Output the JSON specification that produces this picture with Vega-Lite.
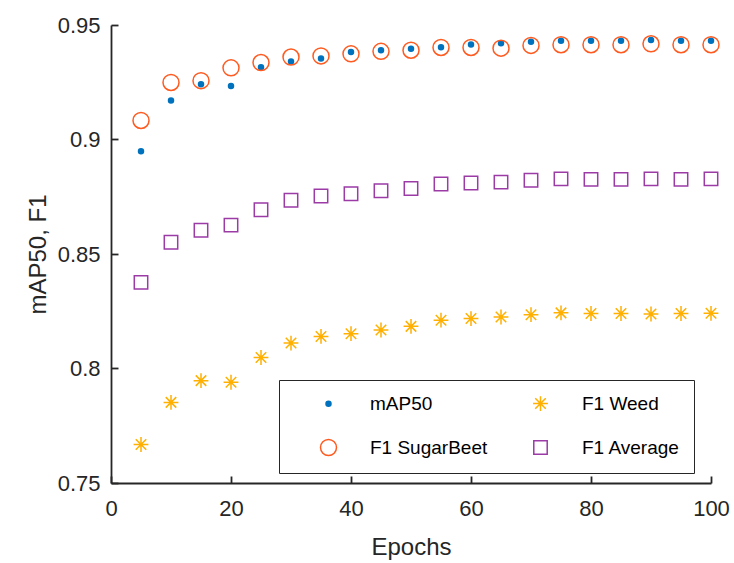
{
  "$schema": "https://vega.github.io/schema/vega-lite/v6.json",
  "width": 600,
  "height": 458,
  "autosize": "none",
  "padding": {"left": 111, "top": 25, "right": 23, "bottom": 80},
  "background": "white",
  "config": {
    "view": {"stroke": null},
    "font": "Liberation Sans",
    "axis": {
      "grid": false,
      "domainColor": "#262626",
      "domainWidth": 1.8,
      "tickColor": "#262626",
      "tickWidth": 1.8,
      "tickSize": -7,
      "labelFlush": false,
      "labelFont": "Liberation Sans",
      "labelFontSize": 22,
      "labelColor": "#262626",
      "titleFont": "Liberation Sans",
      "titleFontSize": 24,
      "titleFontWeight": "normal",
      "titleColor": "#262626"
    }
  },
  "data": {
    "values": [
      {"epoch": 5, "series": "mAP50", "value": 0.8949},
      {"epoch": 10, "series": "mAP50", "value": 0.917},
      {"epoch": 15, "series": "mAP50", "value": 0.9241},
      {"epoch": 20, "series": "mAP50", "value": 0.9234},
      {"epoch": 25, "series": "mAP50", "value": 0.9316},
      {"epoch": 30, "series": "mAP50", "value": 0.9341},
      {"epoch": 35, "series": "mAP50", "value": 0.9354},
      {"epoch": 40, "series": "mAP50", "value": 0.9382},
      {"epoch": 45, "series": "mAP50", "value": 0.939},
      {"epoch": 50, "series": "mAP50", "value": 0.9396},
      {"epoch": 55, "series": "mAP50", "value": 0.9403},
      {"epoch": 60, "series": "mAP50", "value": 0.9415},
      {"epoch": 65, "series": "mAP50", "value": 0.942},
      {"epoch": 70, "series": "mAP50", "value": 0.9427},
      {"epoch": 75, "series": "mAP50", "value": 0.9431},
      {"epoch": 80, "series": "mAP50", "value": 0.9431},
      {"epoch": 85, "series": "mAP50", "value": 0.9431},
      {"epoch": 90, "series": "mAP50", "value": 0.9434},
      {"epoch": 95, "series": "mAP50", "value": 0.9431},
      {"epoch": 100, "series": "mAP50", "value": 0.9431},

      {"epoch": 5, "series": "F1 SugarBeet", "value": 0.9083},
      {"epoch": 10, "series": "F1 SugarBeet", "value": 0.9249},
      {"epoch": 15, "series": "F1 SugarBeet", "value": 0.9257},
      {"epoch": 20, "series": "F1 SugarBeet", "value": 0.9313},
      {"epoch": 25, "series": "F1 SugarBeet", "value": 0.9336},
      {"epoch": 30, "series": "F1 SugarBeet", "value": 0.936},
      {"epoch": 35, "series": "F1 SugarBeet", "value": 0.9365},
      {"epoch": 40, "series": "F1 SugarBeet", "value": 0.9374},
      {"epoch": 45, "series": "F1 SugarBeet", "value": 0.9385},
      {"epoch": 50, "series": "F1 SugarBeet", "value": 0.939},
      {"epoch": 55, "series": "F1 SugarBeet", "value": 0.9402},
      {"epoch": 60, "series": "F1 SugarBeet", "value": 0.9402},
      {"epoch": 65, "series": "F1 SugarBeet", "value": 0.9399},
      {"epoch": 70, "series": "F1 SugarBeet", "value": 0.9411},
      {"epoch": 75, "series": "F1 SugarBeet", "value": 0.9414},
      {"epoch": 80, "series": "F1 SugarBeet", "value": 0.9414},
      {"epoch": 85, "series": "F1 SugarBeet", "value": 0.9414},
      {"epoch": 90, "series": "F1 SugarBeet", "value": 0.9418},
      {"epoch": 95, "series": "F1 SugarBeet", "value": 0.9414},
      {"epoch": 100, "series": "F1 SugarBeet", "value": 0.9414},

      {"epoch": 5, "series": "F1 Weed", "value": 0.7668},
      {"epoch": 10, "series": "F1 Weed", "value": 0.7852},
      {"epoch": 15, "series": "F1 Weed", "value": 0.7947},
      {"epoch": 20, "series": "F1 Weed", "value": 0.794},
      {"epoch": 25, "series": "F1 Weed", "value": 0.8048},
      {"epoch": 30, "series": "F1 Weed", "value": 0.8111},
      {"epoch": 35, "series": "F1 Weed", "value": 0.814},
      {"epoch": 40, "series": "F1 Weed", "value": 0.8152},
      {"epoch": 45, "series": "F1 Weed", "value": 0.8168},
      {"epoch": 50, "series": "F1 Weed", "value": 0.8184},
      {"epoch": 55, "series": "F1 Weed", "value": 0.8211},
      {"epoch": 60, "series": "F1 Weed", "value": 0.8218},
      {"epoch": 65, "series": "F1 Weed", "value": 0.8225},
      {"epoch": 70, "series": "F1 Weed", "value": 0.8235},
      {"epoch": 75, "series": "F1 Weed", "value": 0.8243},
      {"epoch": 80, "series": "F1 Weed", "value": 0.824},
      {"epoch": 85, "series": "F1 Weed", "value": 0.824},
      {"epoch": 90, "series": "F1 Weed", "value": 0.8238},
      {"epoch": 95, "series": "F1 Weed", "value": 0.824},
      {"epoch": 100, "series": "F1 Weed", "value": 0.8241},

      {"epoch": 5, "series": "F1 Average", "value": 0.8376},
      {"epoch": 10, "series": "F1 Average", "value": 0.8551},
      {"epoch": 15, "series": "F1 Average", "value": 0.8604},
      {"epoch": 20, "series": "F1 Average", "value": 0.8626},
      {"epoch": 25, "series": "F1 Average", "value": 0.8693},
      {"epoch": 30, "series": "F1 Average", "value": 0.8735},
      {"epoch": 35, "series": "F1 Average", "value": 0.8753},
      {"epoch": 40, "series": "F1 Average", "value": 0.8763},
      {"epoch": 45, "series": "F1 Average", "value": 0.8776},
      {"epoch": 50, "series": "F1 Average", "value": 0.8786},
      {"epoch": 55, "series": "F1 Average", "value": 0.8806},
      {"epoch": 60, "series": "F1 Average", "value": 0.881},
      {"epoch": 65, "series": "F1 Average", "value": 0.8814},
      {"epoch": 70, "series": "F1 Average", "value": 0.8822},
      {"epoch": 75, "series": "F1 Average", "value": 0.8828},
      {"epoch": 80, "series": "F1 Average", "value": 0.8826},
      {"epoch": 85, "series": "F1 Average", "value": 0.8826},
      {"epoch": 90, "series": "F1 Average", "value": 0.8828},
      {"epoch": 95, "series": "F1 Average", "value": 0.8826},
      {"epoch": 100, "series": "F1 Average", "value": 0.8828}
    ]
  },
  "mark": {"type": "point", "strokeWidth": 1.5, "opacity": 1},
  "encoding": {
    "x": {
      "field": "epoch", "type": "quantitative", "title": "Epochs",
      "scale": {"domain": [0, 100], "nice": false, "zero": false},
      "axis": {"values": [0, 20, 40, 60, 80, 100], "labelPadding": 22, "titlePadding": 16}
    },
    "y": {
      "field": "value", "type": "quantitative", "title": "mAP50, F1",
      "scale": {"domain": [0.75, 0.95], "nice": false, "zero": false},
      "axis": {"values": [0.75, 0.8, 0.85, 0.9, 0.95], "labelPadding": 18, "titlePadding": 7, "labelExpr": "format(datum.value, '~g')"}
    },
    "stroke": {
      "field": "series", "type": "nominal",
      "scale": {"domain": ["mAP50", "F1 SugarBeet", "F1 Weed", "F1 Average"], "range": ["#0072BD", "#FF5A1F", "#FFB000", "#9C3AA6"]},
      "legend": {
        "title": null, "orient": "none", "legendX": 168, "legendY": 355, "columns": 2,
        "strokeColor": "#262626", "fillColor": "white", "padding": 14, "cornerRadius": 0,
        "labelFontSize": 19, "labelFont": "Liberation Sans", "labelColor": "#000000",
        "symbolOffset": 26, "labelOffset": 32, "rowPadding": 22, "columnPadding": 17,
        "symbolStrokeWidth": 1.5, "labelLimit": 300
      }
    },
    "fill": {
      "field": "series", "type": "nominal",
      "scale": {"domain": ["mAP50", "F1 SugarBeet", "F1 Weed", "F1 Average"], "range": ["#0072BD", "transparent", "transparent", "transparent"]}
    },
    "shape": {
      "field": "series", "type": "nominal",
      "scale": {"domain": ["mAP50", "F1 SugarBeet", "F1 Weed", "F1 Average"], "range": ["circle", "circle", "M-1,0L1,0M0,-1L0,1M-0.7071,-0.7071L0.7071,0.7071M-0.7071,0.7071L0.7071,-0.7071", "square"]}
    },
    "size": {
      "field": "series", "type": "nominal",
      "scale": {"type": "ordinal", "domain": ["mAP50", "F1 SugarBeet", "F1 Weed", "F1 Average"], "range": [25, 256, 220, 180]}
    }
  }
}
